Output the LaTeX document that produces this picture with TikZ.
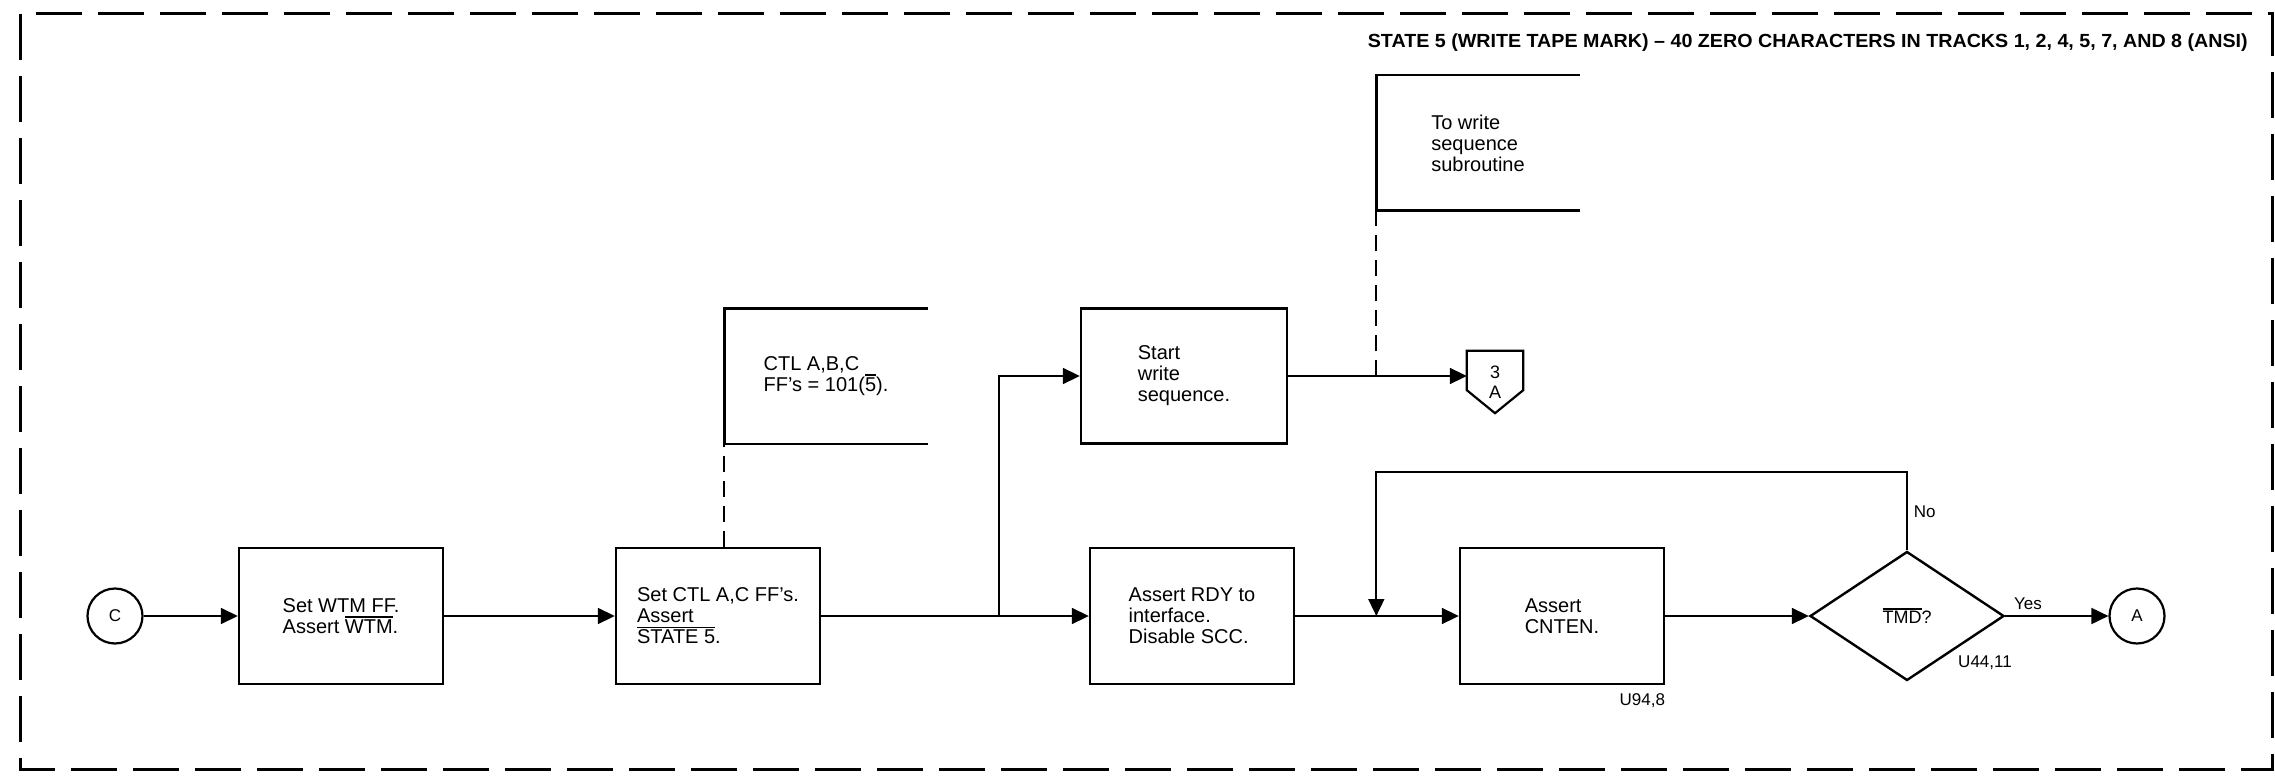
\documentclass[tikz,border=0pt]{standalone}
\usepackage{fontspec}
\setmainfont{Liberation Sans}
\usepackage{graphicx}
\usetikzlibrary{arrows.meta,shapes.geometric,calc}

\newcommand{\ovl}[1]{\leavevmode\vbox{\hrule height 1.6pt\kern 1.8pt\hbox{#1}}}

\begin{document}
\begin{tikzpicture}[x=1pt, y=-1pt,
    box/.style={draw, line width=2.4pt, minimum width=204pt, minimum height=136pt, align=left, font=\fontsize{20}{21}\selectfont},
    note/.style={minimum width=203pt, minimum height=135pt, align=left, font=\fontsize{20}{21}\selectfont},
    conn/.style={draw, circle, line width=2.2pt, minimum size=55pt, inner sep=0pt, font=\fontsize{17}{17}\selectfont},
    flow/.style={line width=1.8pt, -{Triangle[length=17pt,width=16pt]}},
    tie/.style={line width=1.8pt, dash pattern=on 16pt off 9pt},
    lbl/.style={font=\fontsize{17}{17}\selectfont, inner sep=0pt}]
    \useasboundingbox (0,0) rectangle (2275,778);

    % The frame and its title
    \draw[line width=3pt, dash pattern=on 46pt off 16pt] (20,14) rectangle (2272,769);
    \node[anchor=base east, inner sep=0pt] (title) at (2248,48)
        {\resizebox{880pt}{\height}{\fontsize{19}{19}\selectfont\bfseries STATE 5 (WRITE TAPE MARK) – 40 ZERO CHARACTERS IN TRACKS 1, 2, 4, 5, 7, AND 8 (ANSI)}};

    % The main row
    \node[conn] (c) at (115,616) {C};
    \node[box] (wtm) at (341,616) {Set WTM FF.\\Assert \ovl{WTM}.};
    \node[box] (ctl) at (718,616) {Set CTL A,C FF's.\\Assert\\\ovl{STATE 5}.};
    \node[box] (rdy) at (1192,616) {Assert RDY to\\interface.\\Disable SCC.};
    \node[box] (cnten) at (1562,616) {Assert\\CNTEN.};
    \node[draw, diamond, line width=2.4pt, minimum width=194pt, minimum height=129pt, inner sep=0pt,
        font=\fontsize{18}{18}\selectfont] (tmd) at (1907,616) {\ovl{TMD}?};
    \node[conn] (a) at (2137,616) {A};
    \node[lbl] (u44) at (1985,663) {U44,11};
    \node[lbl, anchor=north east] (u94) at ($(cnten.south east)+(0,8)$) {U94,8};

    % The upper row
    \node[box, minimum width=206pt, minimum height=135pt] (start) at (1184,376) {Start\\write\\sequence.};
    \node[note] (ctlnote) at (826,376) {CTL A,B,C\\FF's = 101(\ovl{5}).};
    \draw[line width=2.4pt] (ctlnote.north east) -- (ctlnote.north west) -- (ctlnote.south west) -- (ctlnote.south east);
    \node[note] (seqnote) at (1478,143) {To write\\sequence\\subroutine};
    \draw[line width=2.4pt] (seqnote.north east) -- (seqnote.north west) -- (seqnote.south west) -- (seqnote.south east);

    % The off-page connector
    \node[minimum width=56pt, minimum height=62pt, inner sep=0pt, align=center, font=\fontsize{18}{20}\selectfont] (pg) at (1495,382) {3\\A};
    \draw[line width=2.2pt] (pg.north west) -- (pg.north east) -- ($(pg.south east)+(0,-23)$) -- (pg.south)
        -- ($(pg.south west)+(0,-23)$) -- cycle;

    % The connectors
    \coordinate (split) at (999,616);
    \coordinate (tap) at (seqnote.south west |- start.east);
    \coordinate (merge) at (seqnote.south west |- rdy.east);
    \draw[flow] (c) -- (wtm);
    \draw[flow] (wtm) -- (ctl);
    \draw[flow] (ctl) -- (rdy);
    \draw[flow] (split) |- (start);
    \draw[flow] (start.east) -- (start.east -| pg.west);
    \draw[flow] (rdy) -- (cnten);
    \draw[flow] (cnten) -- (tmd);
    \draw[flow] (tmd) -- node[lbl, above=5pt, pos=0.22] {Yes} (a);
    \draw[flow] (tmd.north) -- node[lbl, right=6pt] {No} ++(0,-78) -| (merge);
    \draw[tie] (ctl.north -| ctlnote.west) -- (ctlnote.south west);
    \draw[tie] (tap) -- (seqnote.south west);
\end{tikzpicture}
\end{document}
